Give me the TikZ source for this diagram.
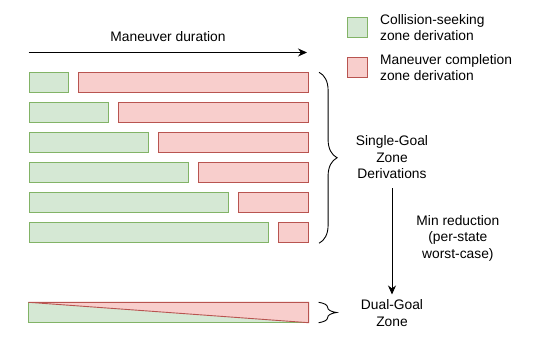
\documentclass[tikz,border=0pt]{standalone}
\usepackage{fontspec}
\setmainfont{Liberation Sans}
\usepackage{tikz}
\usetikzlibrary{arrows.meta, positioning, calc, decorations.pathreplacing}
\definecolor{seekfill}{HTML}{D5E8D4}
\definecolor{seekline}{HTML}{82B366}
\definecolor{compfill}{HTML}{F8CECC}
\definecolor{compline}{HTML}{B85450}
\tikzset{
  seekbar/.style = {
    rectangle, draw=seekline, fill=seekfill, line width=0.9pt,
    minimum height=20pt, inner sep=0pt, anchor=north west
  },
  compbar/.style = {
    rectangle, draw=compline, fill=compfill, line width=0.9pt,
    minimum height=20pt, inner sep=0pt, anchor=north west
  },
  legbox/.style = {
    rectangle, line width=0.9pt, minimum width=20pt, minimum height=20pt,
    inner sep=0pt
  },
  label/.style = {align=center, font=\fontsize{13.8}{16.5}\selectfont, inner sep=1pt},
  leglabel/.style = {align=left, font=\fontsize{13.8}{15.8}\selectfont, inner sep=0pt},
  zonebrace/.style = {decorate, decoration={brace, amplitude=18pt}, line width=0.9pt},
  myarrow/.style = {-{Stealth[length=9pt, width=8pt]}, line width=0.9pt}
}

\begin{document}
\begin{tikzpicture}[x=1pt, y=-1pt]
  \useasboundingbox (0,0) rectangle (538,342);
  % Time axis
  \coordinate (durL) at (28.5,52.5);
  \coordinate (durR) at (307,52.5);
  \draw[myarrow] (durL) -- (durR);
  \node[label] (dur) at (168,37) {Maneuver duration};
  % Legend
  \node[legbox, draw=seekline, fill=seekfill] (legseek) at (357.5,27.5) {};
  \node[legbox, draw=compline, fill=compfill] (legcomp) at (357.5,67.3) {};
  \node[leglabel, anchor=west, right=12pt of legseek] (legseektxt)
    {Collision-seeking\\zone derivation};
  \node[leglabel, anchor=west, right=12pt of legcomp] (legcomptxt)
    {Maneuver completion\\zone derivation};
  % Single-goal derivations
  \foreach \i in {1,...,6} {
    \node[seekbar, minimum width=39.96*\i pt] (seek\i)
      at (28.5, 72.3+30*\i-30) {};
    \node[compbar, minimum width=279.7-39.96*\i-9.7 pt] (comp\i)
      at (28.5+39.96*\i+9.7, 72.3+30*\i-30) {};
  }
  \draw[zonebrace] ($(comp1.north east)+(10,0)$) -- ($(comp6.south east)+(10,0)$);
  \node[label] (single) at (392,157.5) {Single-Goal\\Zone\\Derivations};
  % Dual-goal zone
  \node[rectangle, inner sep=0pt, minimum width=279.7pt, minimum height=20pt,
    anchor=north west] (dual) at (28.5,302.3) {};
  \fill[seekfill] (dual.north west) -- (dual.south west) -- (dual.south east) -- cycle;
  \fill[compfill] (dual.north west) -- (dual.north east) -- (dual.south east) -- cycle;
  \draw[seekline, line width=0.9pt] (dual.north west) -- (dual.south west) -- (dual.south east);
  \draw[compline, line width=0.9pt] (dual.north west) -- (dual.north east) -- (dual.south east) -- cycle;
  \draw[zonebrace] ($(dual.north east)+(10,0)$) -- ($(dual.south east)+(10,0)$);
  \node[label] (dualtxt) at (392,313) {Dual-Goal\\Zone};
  % Reduction arrow
  \draw[myarrow, shorten <=8pt, shorten >=4pt] (single) -- (dualtxt)
    node[label, pos=0.49, right=23pt] (minred) {Min reduction\\(per-state\\worst-case)};
\end{tikzpicture}
\end{document}
